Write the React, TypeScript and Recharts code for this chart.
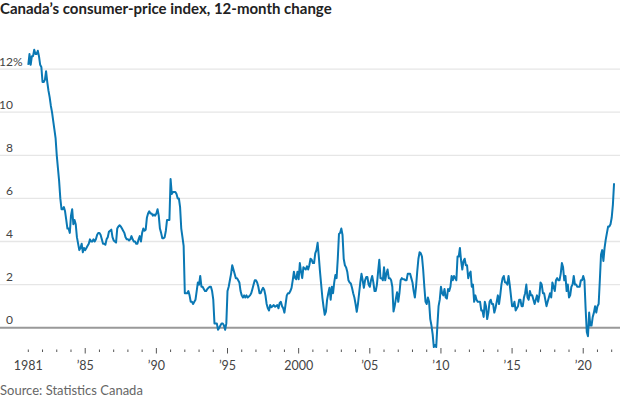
import { LineChart, Line, XAxis, YAxis, ReferenceLine } from 'recharts'

// Canada CPI, 12-month % change, monthly from Jan 1981
const startYear = 1981

const cpi1980s = [
  12.2, 12.7, 12.2, 12.6, 12.6, 12.9, 12.7, 12.7, 12.85, 12.6, 12.2, 12.1,
  11.4, 11.4, 11.5, 11.9, 11.4, 11.0, 10.7, 10.3, 10.0, 9.6, 9.2, 8.8,
  8.0, 7.4, 6.8, 6.0, 5.5, 5.5, 5.6, 5.4, 5.0, 4.6, 4.6, 4.4,
  5.2, 5.5, 4.8, 5.0, 4.8, 4.2, 3.9, 3.6, 3.7, 3.9, 3.5, 3.7,
  3.6, 3.7, 3.8, 3.9, 4.1, 4.0, 4.0, 4.1, 4.0, 4.1, 4.3, 4.4,
  4.4, 4.3, 4.1, 3.9, 3.9, 3.85, 4.1, 4.2, 4.45, 4.5, 4.55, 4.2,
  4.05, 4.0, 3.95, 4.6, 4.7, 4.75, 4.7, 4.6, 4.5, 4.4, 4.2, 4.1,
  4.1, 4.05, 4.1, 4.25, 4.1, 4.0, 4.0, 3.9, 3.9, 4.1, 4.25, 4.0,
  4.4, 4.6, 4.5, 4.55, 5.1, 5.3, 5.4, 5.3, 5.3, 5.2, 5.25, 5.2,
]

const cpi1990s = [
  5.3, 5.5, 5.2, 4.6, 4.4, 4.15, 4.15, 4.2, 4.5, 5.0, 5.0, 5.0,
  6.9, 6.2, 6.3, 6.3, 6.3, 6.2, 6.0, 6.0, 5.6, 4.6, 4.2, 3.8,
  1.6, 1.6, 1.6, 1.7, 1.5, 1.2, 1.2, 1.1, 1.2, 1.3, 1.7, 2.1,
  2.0, 2.4, 1.9, 1.9, 1.8, 1.7, 1.7, 1.8, 1.85, 1.9, 1.9, 1.7,
  1.3, 0.2, 0.2, 0.2, -0.1, 0.0, 0.1, 0.2, 0.2, 0.1, -0.1, 0.2,
  1.7, 1.9, 2.2, 2.5, 2.9, 2.7, 2.5, 2.3, 2.3, 2.2, 2.1, 1.7,
  1.5, 1.4, 1.5, 1.4, 1.5, 1.4, 1.45, 1.5, 1.6, 1.8, 2.0, 2.2,
  2.2, 2.1, 1.9, 1.6, 1.6, 1.75, 1.85, 1.75, 1.5, 1.1, 0.9, 0.8,
  1.05, 0.95, 1.0, 1.05, 0.97, 1.0, 1.05, 0.9, 1.15, 1.2, 1.0, 0.9,
  0.7, 1.1, 1.5, 1.6, 1.6, 1.7, 1.85, 2.2, 2.6, 2.3, 2.25, 2.6,
]

const cpi2000s = [
  2.25, 3.0, 2.6, 2.3, 2.8, 2.75, 2.7, 2.85, 2.7, 2.9, 3.2, 3.15,
  3.0, 3.0, 3.45, 3.6, 3.94, 3.3, 2.6, 2.0, 1.4, 0.97, 0.6, 0.75,
  1.3, 1.6, 1.85, 1.3, 1.9, 1.6, 2.1, 2.45, 2.3, 3.2, 4.35, 4.4,
  4.6, 4.3, 3.2, 2.9, 2.8, 2.6, 2.2, 2.1, 2.05, 1.85, 1.6, 1.4,
  1.1, 0.74, 1.1, 1.6, 2.1, 2.5, 2.2, 1.85, 2.2, 2.35, 2.35, 2.0,
  1.9, 2.2, 2.4, 2.1, 1.7, 1.7, 2.0, 2.6, 3.15, 2.3, 2.3, 2.2,
  2.8, 2.2, 2.5, 2.7, 2.3, 2.3, 2.2, 1.9, 0.75, 1.0, 1.35, 1.65,
  1.2, 1.6, 2.2, 2.3, 2.25, 2.25, 2.2, 2.2, 2.5, 2.5, 2.5, 2.3,
  2.1, 1.7, 1.4, 1.9, 2.6, 3.2, 3.5, 3.45, 3.3, 2.7, 1.9, 1.2,
  1.1, 1.4, 1.2, 0.4, 0.1, -0.3, -0.9, -0.8, -0.9, 0.1, 1.0, 1.3,
]

const cpi2010s = [
  1.9, 1.6, 1.5, 1.8, 1.4, 1.35, 1.8, 1.7, 1.9, 2.4, 2.2, 2.4,
  2.3, 2.2, 3.3, 3.3, 3.7, 3.1, 2.7, 3.1, 3.2, 2.9, 2.9, 2.3,
  2.5, 2.6, 1.9, 2.0, 1.2, 1.5, 1.3, 1.2, 1.2, 1.2, 0.8, 0.8,
  0.5, 1.2, 1.0, 0.4, 0.7, 1.2, 1.3, 1.1, 1.1, 0.7, 0.9, 1.2,
  1.5, 1.1, 1.5, 2.0, 2.3, 2.4, 2.1, 2.1, 2.0, 2.4, 2.0, 1.5,
  1.0, 1.0, 1.2, 0.8, 0.9, 1.0, 1.3, 1.3, 1.0, 1.0, 1.4, 1.6,
  2.0, 1.4, 1.3, 1.7, 1.5, 1.5, 1.3, 1.1, 1.3, 1.5, 1.2, 1.5,
  2.1, 2.0, 1.6, 1.6, 1.3, 1.0, 1.2, 1.4, 1.6, 1.4, 2.1, 1.9,
  1.7, 2.2, 2.3, 2.2, 2.2, 2.5, 3.0, 2.8, 2.2, 2.4, 1.7, 2.0,
  1.4, 1.5, 1.9, 2.0, 2.4, 2.0, 2.0, 1.9, 1.9, 1.9, 2.2, 2.2,
]

const cpi2020s = [
  2.4, 2.2, 0.9, -0.2, -0.4, 0.7, 0.1, 0.1, 0.5, 0.7, 1.0, 0.7,
  1.0, 1.1, 2.2, 3.4, 3.6, 3.1, 3.7, 4.1, 4.4, 4.7, 4.7, 4.8,
  5.1, 5.7, 6.7,
]

const yearLabels: Record<number, string> = {
  1981: '1981',
  1985: '\u201985',
  1990: '\u201990',
  1995: '\u201995',
  2000: '2000',
  2005: '\u201905',
  2010: '\u201910',
  2015: '\u201915',
  2020: '\u201920',
}

const valueTicks = [0, 2, 4, 6, 8, 10, 12]

const monthly = [...cpi1980s, ...cpi1990s, ...cpi2000s, ...cpi2010s, ...cpi2020s]
const data = monthly.map((v, i) => ({ t: startYear + i / 12, v }))

const years: number[] = []
for (let y = 1981; y <= 2022; y++) years.push(y)

const font = 'Lato, "Noto Sans", sans-serif'

function YearTick(props: any) {
  const { x, y, payload } = props
  const label = yearLabels[payload.value]
  const major = !!label && payload.value !== 1981
  return (
    <g>
      <line x1={x} x2={x} y1={y + (major ? 0 : 1.5)} y2={y + (major ? 5.5 : 4)} stroke="#555" strokeWidth={1} />
      {label && (
        <text x={x} y={y + 22} textAnchor="middle" fontFamily={font} fontSize={12.5} fill="#444">
          {label}
        </text>
      )}
    </g>
  )
}

function ValueTick(props: any) {
  const { y, payload } = props
  return (
    <g>
      <text x={13} y={y - 3.5} textAnchor="end" fontFamily={font} fontSize={12} fill="#444">
        {payload.value}
      </text>
      {payload.value === 12 && (
        <text x={13} y={y - 3.5} textAnchor="start" fontFamily={font} fontSize={12} fill="#444">
          %
        </text>
      )}
    </g>
  )
}

export default function App() {
  return (
    <div style={{ position: 'absolute', left: 0, top: 0, width: 620, height: 400, background: '#fff' }}>
      <div
        style={{
          position: 'absolute',
          left: 0,
          top: -1,
          fontFamily: font,
          fontWeight: 700,
          fontSize: 15,
          lineHeight: '18px',
          color: '#222',
          whiteSpace: 'nowrap',
        }}
      >
        Canada’s consumer-price index, 12-month change
      </div>
      <LineChart width={620} height={400} data={data} margin={{ top: 40, right: 0, bottom: 22, left: -20 }}>
        <XAxis
          type="number"
          dataKey="t"
          domain={[1979.011, 2022.584]}
          allowDataOverflow
          ticks={years}
          interval={0}
          axisLine={false}
          tickLine={false}
          tickSize={0}
          tickMargin={0}
          height={30}
          tick={(p: any) => <YearTick {...p} />}
        />
        <YAxis
          type="number"
          domain={[-0.942, 13.35]}
          allowDataOverflow
          ticks={valueTicks}
          interval={0}
          width={20}
          axisLine={false}
          tickLine={false}
          tick={(p: any) => <ValueTick {...p} />}
        />
        {valueTicks
          .filter((v) => v !== 0)
          .map((v) => (
            <ReferenceLine key={v} y={v} stroke="#e6e6e6" strokeWidth={1.3} />
          ))}
        <ReferenceLine y={0} stroke="#999" strokeWidth={2} />
        <Line
          type="linear"
          dataKey="v"
          stroke="#0a78b4"
          strokeWidth={2}
          dot={false}
          strokeLinejoin="round"
          isAnimationActive={false}
        />
      </LineChart>
      <div
        style={{
          position: 'absolute',
          left: 0,
          top: 383,
          fontFamily: font,
          fontSize: 13,
          lineHeight: '15px',
          color: '#666',
          whiteSpace: 'nowrap',
        }}
      >
        Source: Statistics Canada
      </div>
    </div>
  )
}
